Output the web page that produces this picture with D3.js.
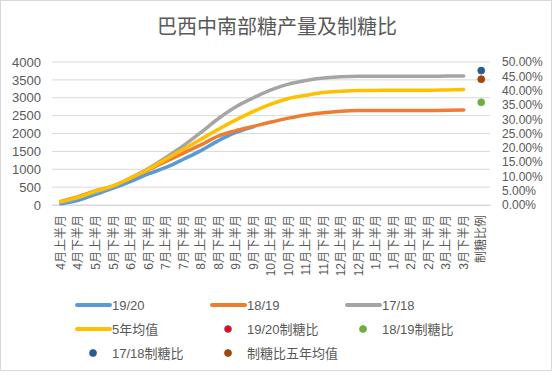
<!DOCTYPE html>
<html><head><meta charset="utf-8">
<script src="https://cdn.jsdelivr.net/npm/d3@7"></script>
<style>
body{margin:0;background:#fff;}
text{font-family:"Liberation Sans","Noto Sans CJK SC",sans-serif;fill:#595959;}
</style></head>
<body><svg id="c" width="554" height="375"></svg>
<script>
const categories = ["4月上半月","4月下半月","5月上半月","5月下半月","6月上半月","6月下半月","7月上半月","7月下半月","8月上半月","8月下半月","9月上半月","9月下半月","10月上半月","10月下半月","11月上半月","11月下半月","12月上半月","12月下半月","1月上半月","1月下半月","2月上半月","2月下半月","3月上半月","3月下半月","制糖比例"];
const s1920 = [35,130,300,470,660,870,1050,1280,1520,1800,2030,2190];
const s1819 = [100,230,400,530,750,980,1220,1450,1680,1930,2080,2200,2320,2430,2520,2580,2620,2640,2645,2645,2645,2645,2650,2660];
const s1718 = [80,200,370,520,760,1020,1330,1660,2030,2420,2750,3000,3220,3380,3480,3550,3590,3600,3600,3600,3600,3600,3605,3610];
const s5yr  = [90,220,390,540,760,1000,1280,1560,1840,2120,2380,2620,2820,2980,3070,3150,3180,3200,3205,3210,3210,3210,3220,3232];
const ratio1920 = null;
const ratio1819 = 0.359;
const ratio1718 = 0.470;
const ratio5yr = 0.440;
const leftTicks = [0,500,1000,1500,2000,2500,3000,3500,4000];
const rightTicks = [0,0.05,0.10,0.15,0.20,0.25,0.30,0.35,0.40,0.45,0.50];

const svg = d3.select("#c");
svg.append("rect").attr("x",0.5).attr("y",0.5).attr("width",551).attr("height",370)
  .attr("fill","#fff").attr("stroke","#D9D9D9");

svg.append("text").attr("x",277).attr("y",34).attr("text-anchor","middle")
  .style("font-size","20px").style("font-family","'Noto Sans CJK SC',sans-serif")
  .text("巴西中南部糖产量及制糖比");

const x = d3.scaleBand().domain(categories).range([52,490]);
const yL = d3.scaleLinear().domain([0,4000]).range([205,62]);
const yR = d3.scaleLinear().domain([0,0.5]).range([205,62]);

// gridlines
svg.append("g").selectAll("line").data(leftTicks).join("line")
  .attr("x1",52).attr("x2",490).attr("y1",d=>yL(d)).attr("y2",d=>yL(d))
  .attr("stroke","#D9D9D9").attr("stroke-width",1);

// left axis
const gl = svg.append("g").attr("transform","translate(52,0)")
  .call(d3.axisLeft(yL).tickValues(leftTicks).tickSize(0).tickPadding(11).tickFormat(d3.format("d")));
gl.select(".domain").remove();
gl.selectAll("text").style("font-size","13px").style("fill","#595959");

// right axis
const gr = svg.append("g").attr("transform","translate(490,0)")
  .call(d3.axisRight(yR).tickValues(rightTicks).tickSize(0).tickPadding(12).tickFormat(d3.format(".2%")));
gr.select(".domain").remove();
gr.selectAll("text").style("font-size","12px").style("fill","#595959");

// bottom axis
const gb = svg.append("g").attr("transform","translate(0,205)")
  .call(d3.axisBottom(x).tickSize(0));
gb.select(".domain").attr("stroke","#D9D9D9");
gb.selectAll("text").style("font-size","12px").style("fill","#595959")
  .attr("text-anchor","end").attr("dy","0.35em")
  .attr("transform","translate(0,10) rotate(-90)").attr("x",0).attr("y",0);

const cx = (i)=> x(categories[i]) + x.bandwidth()/2;
const line = d3.line().x((d,i)=>cx(i)).y(d=>yL(d)).curve(d3.curveMonotoneX);
const series = [
  {v:s1920,c:"#5B9BD5"},
  {v:s1819,c:"#ED7D31"},
  {v:s1718,c:"#A5A5A5"},
  {v:s5yr,c:"#FFC000"}
];
svg.append("g").selectAll("path").data(series).join("path")
  .attr("d",d=>line(d.v)).attr("fill","none").attr("stroke",d=>d.c)
  .attr("stroke-width",3.5).attr("stroke-linecap","round").attr("stroke-linejoin","round");

const dots = [
  {v:ratio1920,c:"#FF0000",s:"#4472C4"},
  {v:ratio1819,c:"#70AD47",s:"#70AD47"},
  {v:ratio1718,c:"#255E91",s:"#255E91"},
  {v:ratio5yr,c:"#9E480E",s:"#9E480E"}
];
svg.append("g").selectAll("circle").data(dots.filter(d=>d.v!=null)).join("circle")
  .attr("cx",cx(24)).attr("cy",d=>yR(d.v)).attr("r",3.5)
  .attr("fill",d=>d.c).attr("stroke",d=>d.s).attr("stroke-width",0.75);

// legend
const leg = [
  {t:"19/20",type:"line",c:"#5B9BD5",x:77,y:305},
  {t:"18/19",type:"line",c:"#ED7D31",x:212,y:305},
  {t:"17/18",type:"line",c:"#A5A5A5",x:347,y:305},
  {t:"5年均值",type:"line",c:"#FFC000",x:77,y:329},
  {t:"19/20制糖比",type:"dot",c:"#FF0000",s:"#4472C4",x:212,y:329},
  {t:"18/19制糖比",type:"dot",c:"#70AD47",s:"#70AD47",x:347,y:329},
  {t:"17/18制糖比",type:"dot",c:"#255E91",s:"#255E91",x:77,y:353},
  {t:"制糖比五年均值",type:"dot",c:"#9E480E",s:"#9E480E",x:212,y:353}
];
const lg = svg.append("g").selectAll("g").data(leg).join("g")
  .attr("transform",d=>`translate(${d.x},${d.y})`);
lg.filter(d=>d.type==="line").append("line").attr("x1",0).attr("x2",33).attr("y1",0).attr("y2",0)
  .attr("stroke",d=>d.c).attr("stroke-width",4).attr("stroke-linecap","round");
lg.filter(d=>d.type==="dot").append("circle").attr("cx",16).attr("cy",0).attr("r",3.5)
  .attr("fill",d=>d.c).attr("stroke",d=>d.s).attr("stroke-width",0.75);
lg.append("text").attr("x",35).attr("y",0).attr("dy","0.35em").style("font-size","13px").text(d=>d.t);
</script></body></html>
